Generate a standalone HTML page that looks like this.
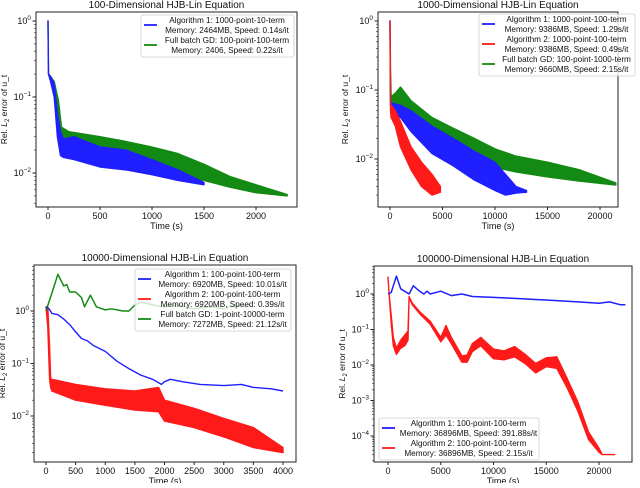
<!DOCTYPE html>
<html><head><meta charset="utf-8"><style>
body{margin:0;background:#fff;width:640px;height:483px;overflow:hidden;font-family:"Liberation Sans","DejaVu Sans",sans-serif}
svg text{font-family:"Liberation Sans","DejaVu Sans",sans-serif;fill:#111}
</style></head><body>
<svg id="fig" width="640" height="483" viewBox="0 0 640 483" xmlns="http://www.w3.org/2000/svg"></svg>
<script>
// ---- Panel 1 data ----
const p1BlueT=[0,5,20,60,90,120,150,250,500,750,1000,1250,1500];
const p1BlueLo=[1.0,0.2,0.17,0.1,0.03,0.017,0.016,0.015,0.012,0.011,0.0095,0.008,0.007];
const p1BlueHi=[1.0,0.2,0.19,0.15,0.06,0.035,0.028,0.03,0.022,0.02,0.015,0.011,0.0075];
const p1GreenT=[0,5,20,60,100,130,200,500,750,1000,1250,1500,1750,2000,2300];
const p1GreenLo=[1.0,0.2,0.17,0.12,0.06,0.025,0.02,0.016,0.014,0.012,0.0095,0.008,0.0065,0.0055,0.005];
const p1GreenHi=[1.0,0.2,0.19,0.16,0.09,0.04,0.035,0.03,0.026,0.022,0.018,0.013,0.009,0.007,0.0052];
const p1XTicks=[0,500,1000,1500,2000];
// ---- Panel 2 data ----
const p2RedT=[0,50,100,500,1000,2000,3000,4000,4800];
const p2RedLo=[1,0.05,0.04,0.03,0.015,0.007,0.004,0.003,0.0033];
const p2RedHi=[1,0.06,0.06,0.05,0.035,0.015,0.009,0.006,0.004];
const p2BlueT=[0,50,100,1000,2000,4000,6000,8000,10000,11000,12000,13000];
const p2BlueLo=[1,0.06,0.05,0.04,0.025,0.012,0.008,0.005,0.0035,0.003,0.0032,0.0033];
const p2BlueHi=[1,0.065,0.065,0.06,0.05,0.03,0.02,0.013,0.009,0.006,0.004,0.0035];
const p2GreenT=[0,50,100,500,1000,2000,4000,6000,8000,10000,12000,15000,18000,21500];
const p2GreenLo=[1,0.07,0.06,0.06,0.06,0.04,0.022,0.013,0.009,0.0075,0.0065,0.0055,0.0048,0.0042];
const p2GreenHi=[1,0.2,0.08,0.09,0.11,0.07,0.04,0.028,0.02,0.014,0.011,0.009,0.007,0.0045];
const p2XTicks=[0,5000,10000,15000,20000];
// ---- Panel 3 data ----
const p3GreenT=[0,100,200,300,350,400,500,600,650,750,850,1000,1100,1300,1400,1500,1600,1800,2000,2200,2500,2800,3000,3200,3400];
const p3GreenV=[1.0,2.2,5.0,3.0,3.2,2.3,2.3,1.8,1.2,2.0,1.2,1.05,1.1,1.0,1.0,1.3,1.5,1.3,1.2,1.3,1.1,1.2,1.1,1.3,1.2];
const p3BlueT=[0,50,100,200,300,400,500,600,700,800,1000,1200,1400,1600,1800,1950,2000,2100,2300,2600,3000,3300,3500,3800,4000];
const p3BlueV=[1.2,1.1,0.9,0.85,0.7,0.55,0.4,0.3,0.27,0.22,0.17,0.11,0.08,0.06,0.05,0.04,0.045,0.05,0.045,0.04,0.038,0.04,0.035,0.033,0.03];
const p3RedT=[0,30,60,80,100,500,1000,1500,1900,2000,2500,3000,3500,4000];
const p3RedLo=[1.2,0.5,0.05,0.035,0.03,0.02,0.016,0.013,0.012,0.008,0.006,0.004,0.0025,0.002];
const p3RedHi=[1.2,1.2,0.2,0.05,0.05,0.04,0.033,0.03,0.035,0.02,0.014,0.009,0.006,0.0025];
const p3XTicks=[0,500,1000,1500,2000,2500,3000,3500,4000];
// ---- Panel 4 data ----
const p4BlueT=[0,300,800,1200,2000,2400,3000,3400,3700,4000,5000,6000,7000,8000,10000,12000,14000,16000,18000,20000,21000,22000,22500];
const p4BlueV=[1.0,1.1,3.2,1.4,1.0,1.7,1.2,1.0,1.2,1.0,1.2,0.9,1.0,0.85,0.8,0.75,0.7,0.65,0.6,0.55,0.6,0.5,0.5];
const p4RedT=[0,100,300,500,800,1200,1600,1900,2000,2300,3000,4000,5000,5500,6000,7000,7500,8000,8800,10000,11000,12000,13000,14000,15000,16000,17000,18000,19000,20000,20300,21500];
const p4RedLo=[3.0,1.0,0.15,0.035,0.02,0.03,0.035,0.05,0.8,0.5,0.28,0.14,0.045,0.07,0.04,0.012,0.012,0.024,0.035,0.015,0.014,0.017,0.011,0.006,0.009,0.008,0.0022,0.0005,0.00008,0.000035,0.00003,0.00003];
const p4RedHi=[3.0,1.0,0.25,0.06,0.03,0.05,0.07,0.09,0.85,0.55,0.32,0.17,0.06,0.13,0.06,0.018,0.019,0.04,0.06,0.028,0.025,0.033,0.02,0.011,0.016,0.017,0.004,0.0009,0.00013,0.000045,0.00003,0.00003];
const p4XTicks=[0,5000,10000,15000,20000];

const NS="http://www.w3.org/2000/svg";
const svg=document.getElementById('fig');
function mk(tag,attrs,parent){const e=document.createElementNS(NS,tag);for(const k in attrs)e.setAttribute(k,attrs[k]);(parent||svg).appendChild(e);return e;}
const BLUE='#1f1fff',RED='#ff1a1a',GREEN='#138a13';

function panel(cfg){
  const g=mk('g',{});
  
  
  const X=t=>cfg.x0+(t-0)*(cfg.x1px-cfg.x0)/cfg.x1v;
  const Y=v=>cfg.y0px-(Math.log10(v))*cfg.dec;
  const clip='c'+cfg.name;
  const cp=mk('clipPath',{id:clip},g);mk('rect',{x:cfg.L,y:cfg.T,width:cfg.R-cfg.L,height:cfg.B-cfg.T},cp);
  const data=mk('g',{'clip-path':'url(#'+clip+')'},g);
  cfg.bands.forEach(b=>{
    let pts=b.t.map((t,i)=>X(t).toFixed(1)+','+Y(b.hi[i]).toFixed(1));
    for(let i=b.t.length-1;i>=0;i--)pts.push(X(b.t[i]).toFixed(1)+','+Y(b.lo[i]).toFixed(1));
    const p=mk('polygon',{points:pts.join(' '),fill:b.c,stroke:b.c,'stroke-width':1.4,'stroke-linejoin':'round'},data);
    
    
  });
  cfg.lines.forEach(l=>{
    const p=mk('polyline',{points:l.t.map((t,i)=>X(t).toFixed(1)+','+Y(l.v[i]).toFixed(1)).join(' '),fill:'none',stroke:l.c,'stroke-width':l.w||1.5,'stroke-linejoin':'round'},data);
    
    
  });
  mk('rect',{x:cfg.L,y:cfg.T,width:cfg.R-cfg.L,height:cfg.B-cfg.T,fill:'none',stroke:'#222','stroke-width':1},g);
  cfg.xt.forEach(t=>{const x=X(t);mk('line',{x1:x,x2:x,y1:cfg.B,y2:cfg.B+3,stroke:'#222'},g);
    const tx=mk('text',{x:x,y:cfg.B+12,'font-size':9,'text-anchor':'middle'},g);tx.textContent=t;
    });
  for(let d=cfg.dmin;d<=cfg.dmax;d++){
    const y=Y(Math.pow(10,d));
    if(y>=cfg.T-0.5&&y<=cfg.B+0.5){mk('line',{x1:cfg.L-3.5,x2:cfg.L,y1:y,y2:y,stroke:'#222'},g);
      const tx=mk('text',{x:cfg.L-5,y:y+3,'font-size':9,'text-anchor':'end'},g);
      tx.innerHTML='10<tspan dy="-4" font-size="6.5">'+(d<0?'\u2212'+(-d):d)+'</tspan>';
      }
    for(let m=2;m<10;m++){const ym=Y(m*Math.pow(10,d));if(ym>=cfg.T&&ym<=cfg.B)mk('line',{x1:cfg.L-2,x2:cfg.L,y1:ym,y2:ym,stroke:'#222','stroke-width':0.6},g);}
  }
  const ti=mk('text',{x:(cfg.L+cfg.R)/2,y:cfg.T-4,'font-size':10,'text-anchor':'middle'},g);ti.textContent=cfg.title;
  
  const xl=mk('text',{x:(cfg.L+cfg.R)/2,y:cfg.B+22,'font-size':9,'text-anchor':'middle'},g);xl.textContent='Time (s)';
  
  const yl=mk('text',{x:0,y:0,'font-size':8.5,'text-anchor':'middle',transform:'translate('+cfg.ylx+','+((cfg.T+cfg.B)/2)+') rotate(-90)'},g);
  yl.innerHTML='Rel. <tspan font-style="italic">L</tspan><tspan font-size="6" dy="2">2</tspan><tspan dy="-2"> error of u_t</tspan>';
  
  const lg=cfg.leg;const lgG=mk('g',{},g);
  
  mk('rect',{x:lg.x,y:lg.y,width:lg.w,height:lg.items.length*20+2,fill:'#fff','fill-opacity':0.8,stroke:'#ccc','stroke-width':0.8,rx:2},lgG);
  lg.items.forEach((it,i)=>{const yy=lg.y+6+i*20;
    const e=mk('g',{},lgG);
    mk('line',{x1:lg.x+3,x2:lg.x+16,y1:yy+4,y2:yy+4,stroke:it.c,'stroke-width':1.8},e);
    const cx=lg.x+19+(lg.w-19)/2;
    const a=mk('text',{x:cx,y:yy+2,'font-size':8.2,'text-anchor':'middle'},e);a.textContent=it.a;
    const b=mk('text',{x:cx,y:yy+12,'font-size':8.2,'text-anchor':'middle'},e);b.textContent=it.b;});
}

panel({name:'panel-100d',title:'100-Dimensional HJB-Lin Equation',L:36,R:297,T:12,B:207,x0:48,x1px:256,x1v:2000,y0px:21,dec:76,dmin:-3,dmax:0,ylx:7,xt:p1XTicks,
  bands:[{t:p1GreenT,lo:p1GreenLo,hi:p1GreenHi,c:GREEN,n:'green-series-band'},{t:p1BlueT,lo:p1BlueLo,hi:p1BlueHi,c:BLUE,n:'blue-series-band'}],lines:[],
  leg:{x:141,y:15,w:153,items:[{c:BLUE,a:'Algorithm 1: 1000-point-10-term',b:'Memory: 2464MB, Speed: 0.14s/it'},{c:GREEN,a:'Full batch GD: 100-point-100-term',b:'Memory: 2406, Speed: 0.22s/it'}]}});
panel({name:'panel-1000d',title:'1000-Dimensional HJB-Lin Equation',L:378,R:618,T:12,B:207,x0:390,x1px:600,x1v:20000,y0px:21,dec:69,dmin:-3,dmax:0,ylx:348,xt:p2XTicks,
  bands:[{t:p2GreenT,lo:p2GreenLo,hi:p2GreenHi,c:GREEN,n:'green-series-band'},{t:p2BlueT,lo:p2BlueLo,hi:p2BlueHi,c:BLUE,n:'blue-series-band'},{t:p2RedT,lo:p2RedLo,hi:p2RedHi,c:RED,n:'red-series-band'}],lines:[],
  leg:{x:479,y:14,w:156,items:[{c:BLUE,a:'Algorithm 1: 1000-point-100-term',b:'Memory: 9386MB, Speed: 1.29s/it'},{c:RED,a:'Algorithm 2: 1000-point-100-term',b:'Memory: 9386MB, Speed: 0.49s/it'},{c:GREEN,a:'Full batch GD: 100-point-1000-term',b:'Memory: 9660MB, Speed: 2.15s/it'}]}});
panel({name:'panel-10000d',title:'10000-Dimensional HJB-Lin Equation',L:34,R:296,T:265,B:462,x0:46,x1px:283,x1v:4000,y0px:311,dec:52.5,dmin:-3,dmax:0,ylx:5,xt:p3XTicks,
  bands:[{t:p3RedT,lo:p3RedLo,hi:p3RedHi,c:RED,n:'red-series-band'}],
  lines:[{t:p3GreenT,v:p3GreenV,c:GREEN,n:'green-series-line'},{t:p3BlueT,v:p3BlueV,c:BLUE,n:'blue-series-line',w:1.4}],
  leg:{x:135,y:269,w:156,items:[{c:BLUE,a:'Algorithm 1: 100-point-100-term',b:'Memory: 6920MB, Speed: 10.01s/it'},{c:RED,a:'Algorithm 2: 100-point-100-term',b:'Memory: 6920MB, Speed: 0.39s/it'},{c:GREEN,a:'Full batch GD: 1-point-10000-term',b:'Memory: 7272MB, Speed: 21.12s/it'}]}});
panel({name:'panel-100000d',title:'100000-Dimensional HJB-Lin Equation',L:374,R:632,T:266,B:462,x0:388,x1px:599,x1v:20000,y0px:294,dec:35.5,dmin:-5,dmax:0,ylx:345,xt:p4XTicks,
  bands:[{t:p4RedT,lo:p4RedLo,hi:p4RedHi,c:RED,n:'red-series-band'}],
  lines:[{t:p4BlueT,v:p4BlueV,c:BLUE,n:'blue-series-line'}],
  leg:{x:379,y:418,w:160,items:[{c:BLUE,a:'Algorithm 1: 100-point-100-term',b:'Memory: 36896MB, Speed: 391.88s/it'},{c:RED,a:'Algorithm 2: 100-point-100-term',b:'Memory: 36896MB, Speed: 2.15s/it'}]}});
</script>
</body></html>
